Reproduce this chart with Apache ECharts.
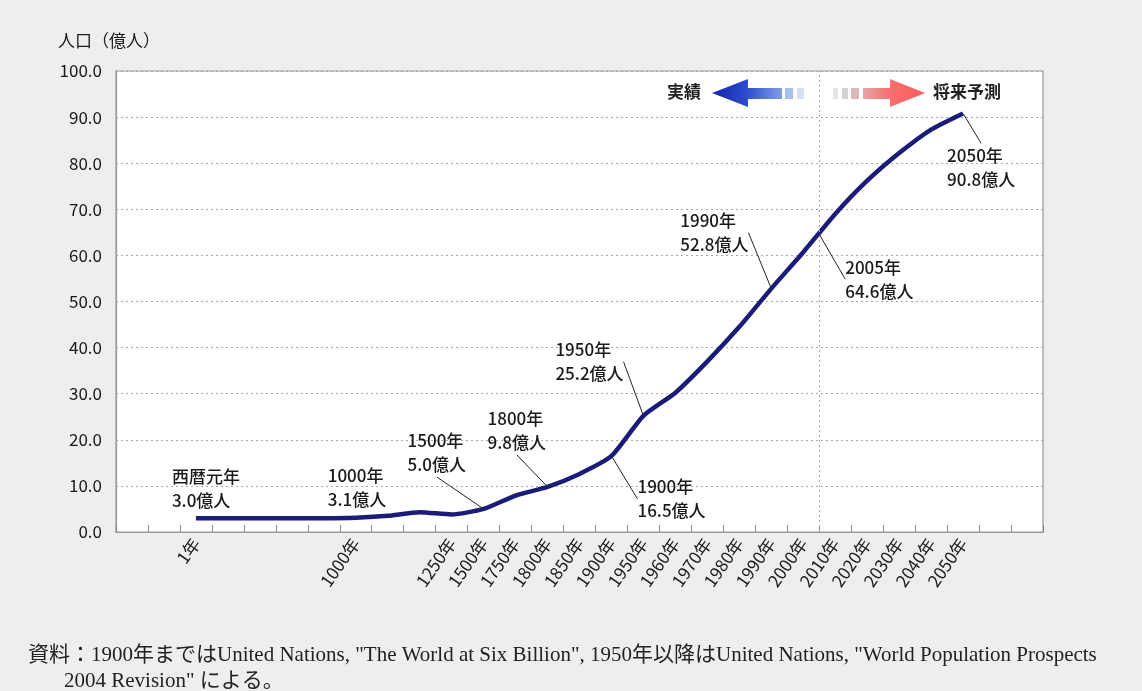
<!DOCTYPE html>
<html>
<head>
<meta charset="utf-8">
<script src="https://cdn.jsdelivr.net/npm/echarts@6/dist/echarts.min.js"></script>
<style>
  html, body { margin: 0; background: #eeeeee; }
  #chart { width: 1142px; height: 691px; }
</style>
</head>
<body>
<div id="chart"></div>
<script>
// x slots (blank = unlabeled slot)
const years = ['', '', '1年', '', '', '', '', '1000年', '', '', '1250年', '1500年', '1750年', '1800年',
  '1850年', '1900年', '1950年', '1960年', '1970年', '1980年', '1990年', '2000年', '2010年', '2020年',
  '2030年', '2040年', '2050年', '', ''];
// 世界人口（億人）
const population = [null, null, 3.0, 3.0, 3.0, 3.0, 3.0, 3.1, 3.5, 4.3, 3.8, 5.0, 7.9, 9.8,
  12.6, 16.5, 25.2, 30.2, 37.0, 44.5, 52.8, 60.7, 69.0, 76.2, 82.2, 87.3, 90.8, null, null];

const yMin = 0, yMax = 100, yStep = 10;

// 注記
const noteAt = ['1年', '1000年', '1500年', '1800年', '1900年', '1950年', '1990年', '2005年', '2050年'];
const noteTitle = ['西暦元年', '1000年', '1500年', '1800年', '1900年', '1950年', '1990年', '2005年', '2050年'];
const noteValue = [3.0, 3.1, 5.0, 9.8, 16.5, 25.2, 52.8, 64.6, 90.8];
const noteLeader = [false, false, true, true, true, true, true, true, true];
const noteOffset = [[-24, -30], [-28, -30], [-76, -56], [-60, -56], [26, 43], [-88, -54], [-91, -56], [26, 45], [-16, 54]];

const forecastFrom = '2005年';

// slot position on hidden value axis
function slotOf(label) {
  const i = years.indexOf(label);
  if (i >= 0) return i + 0.5;
  const yr = parseInt(label);
  let prev = -1;
  for (let k = 0; k < years.length; k++) {
    if (!years[k]) continue;
    const v = parseInt(years[k]);
    if (v > yr && prev >= 0) {
      const pv = parseInt(years[prev]);
      return prev + 0.5 + (yr - pv) / (v - pv) * (k - prev);
    }
    prev = k;
  }
  return null;
}

const chart = echarts.init(document.getElementById('chart'));

const cjk = '"Noto Sans CJK JP", "Noto Sans", sans-serif';
const serif = '"Liberation Serif", "DejaVu Serif", "Noto Sans CJK JP", serif';

function noteSeries(withLeader) {
  const idx = noteAt.map((_, i) => i).filter(i => noteLeader[i] === withLeader);
  return {
    type: 'scatter',
    xAxisIndex: 1,
    yAxisIndex: 0,
    symbolSize: 2,
    itemStyle: { color: 'rgba(0,0,0,0)', opacity: 1 },
    silent: true,
    z: 5,
    data: idx.map(i => ({
      name: noteTitle[i],
      value: [slotOf(noteAt[i]), noteValue[i]]
    })),
    label: {
      show: true,
      position: 'inside',
      align: 'left',
      verticalAlign: 'middle',
      fontSize: 17,
      fontWeight: 500,
      lineHeight: 24,
      color: '#1a1a1a',
      fontFamily: cjk,
      formatter: p => p.name + '\n' + p.value[1].toFixed(1) + '億人'
    },
    labelLayout: p => ({ dx: noteOffset[idx[p.dataIndex]][0], dy: noteOffset[idx[p.dataIndex]][1] }),
    labelLine: { show: withLeader, lineStyle: { color: '#222', width: 1 } }
  };
}

const option = {
  backgroundColor: '#eeeeee',
  animation: false,
  textStyle: { fontFamily: cjk },
  grid: {
    left: 116, right: 99, top: 71, bottom: 159,
    show: true, backgroundColor: '#ffffff', borderColor: '#9a9a9a', borderWidth: 1.2
  },
  xAxis: [{
    type: 'category',
    data: years,
    boundaryGap: true,
    axisLine: { lineStyle: { color: '#9a9a9a', width: 1.2 } },
    axisTick: { show: true, inside: true, length: 7, interval: 0, lineStyle: { color: '#888' } },
    axisLabel: { interval: 0, rotate: 55, fontSize: 17, color: '#1a1a1a', margin: 8 },
    splitLine: { show: false }
  }, {
    type: 'value', min: 0, max: years.length, show: false
  }],
  yAxis: {
    type: 'value',
    min: yMin, max: yMax, interval: yStep,
    axisLine: { show: true, lineStyle: { color: '#9a9a9a', width: 1.2 } },
    axisTick: { show: false },
    axisLabel: { formatter: v => v.toFixed(1), fontSize: 17, color: '#1a1a1a', margin: 14 },
    splitLine: { lineStyle: { type: [2, 3], color: '#a8a8a8' } }
  },
  series: [{
    type: 'line',
    data: population,
    symbol: 'none',
    smooth: 0.2,
    silent: true,
    z: 3,
    lineStyle: { color: '#1b1b78', width: 4.5 }
  }, {
    type: 'scatter',
    xAxisIndex: 1,
    data: [],
    markLine: {
      silent: true,
      symbol: 'none',
      label: { show: false },
      lineStyle: { type: [2, 3], color: '#a8a8a8', width: 1 },
      data: [{ xAxis: slotOf(forecastFrom) }]
    }
  }, noteSeries(true), noteSeries(false)],
  graphic: [
    { type: 'text', left: 58, top: 32, style: { text: '人口（億人）', fontSize: 17, fill: '#1a1a1a', fontFamily: cjk } },
    // 実績 arrow
    { type: 'text', right: 1142 - 701, top: 83, style: { text: '実績', fontSize: 17, fontWeight: 'bold', fill: '#222', fontFamily: cjk } },
    { type: 'polygon', shape: { points: [[712, 93], [748, 79], [748, 88], [782, 88], [782, 99], [748, 99], [748, 107]] },
      style: { fill: { type: 'linear', x: 0, y: 0, x2: 1, y2: 0, colorStops: [
        { offset: 0, color: '#1424a8' }, { offset: 0.5, color: '#2e4ccc' }, { offset: 1, color: '#7f9fe6' }] } } },
    { type: 'rect', shape: { x: 785, y: 88, width: 8, height: 11 }, style: { fill: '#a9c0ef' } },
    { type: 'rect', shape: { x: 797, y: 88, width: 7, height: 11 }, style: { fill: '#d6e1f7' } },
    // 将来予測 arrow
    { type: 'rect', shape: { x: 833, y: 88, width: 5, height: 11 }, style: { fill: '#e4e4e4' } },
    { type: 'rect', shape: { x: 842, y: 88, width: 6, height: 11 }, style: { fill: '#d2d2d2' } },
    { type: 'rect', shape: { x: 851, y: 88, width: 8, height: 11 }, style: { fill: '#d9b9b9' } },
    { type: 'polygon', shape: { points: [[863, 88], [890, 88], [890, 79], [925, 93], [890, 107], [890, 99], [863, 99]] },
      style: { fill: { type: 'linear', x: 0, y: 0, x2: 1, y2: 0, colorStops: [
        { offset: 0, color: '#e7a6a6' }, { offset: 0.4, color: '#f77272' }, { offset: 1, color: '#ff5a5a' }] } } },
    { type: 'text', left: 933, top: 83, style: { text: '将来予測', fontSize: 17, fontWeight: 'bold', fill: '#222', fontFamily: cjk } },
    // 資料
    { type: 'text', left: 28, top: 645, style: { text: '資料：1900年まではUnited Nations, "The World at Six Billion", 1950年以降はUnited Nations, "World Population Prospects', fontSize: 21, fill: '#222', fontFamily: serif } },
    { type: 'text', left: 64, top: 671, style: { text: '2004 Revision" による。', fontSize: 21, fill: '#222', fontFamily: serif } }
  ]
};

chart.setOption(option);
</script>
</body>
</html>
